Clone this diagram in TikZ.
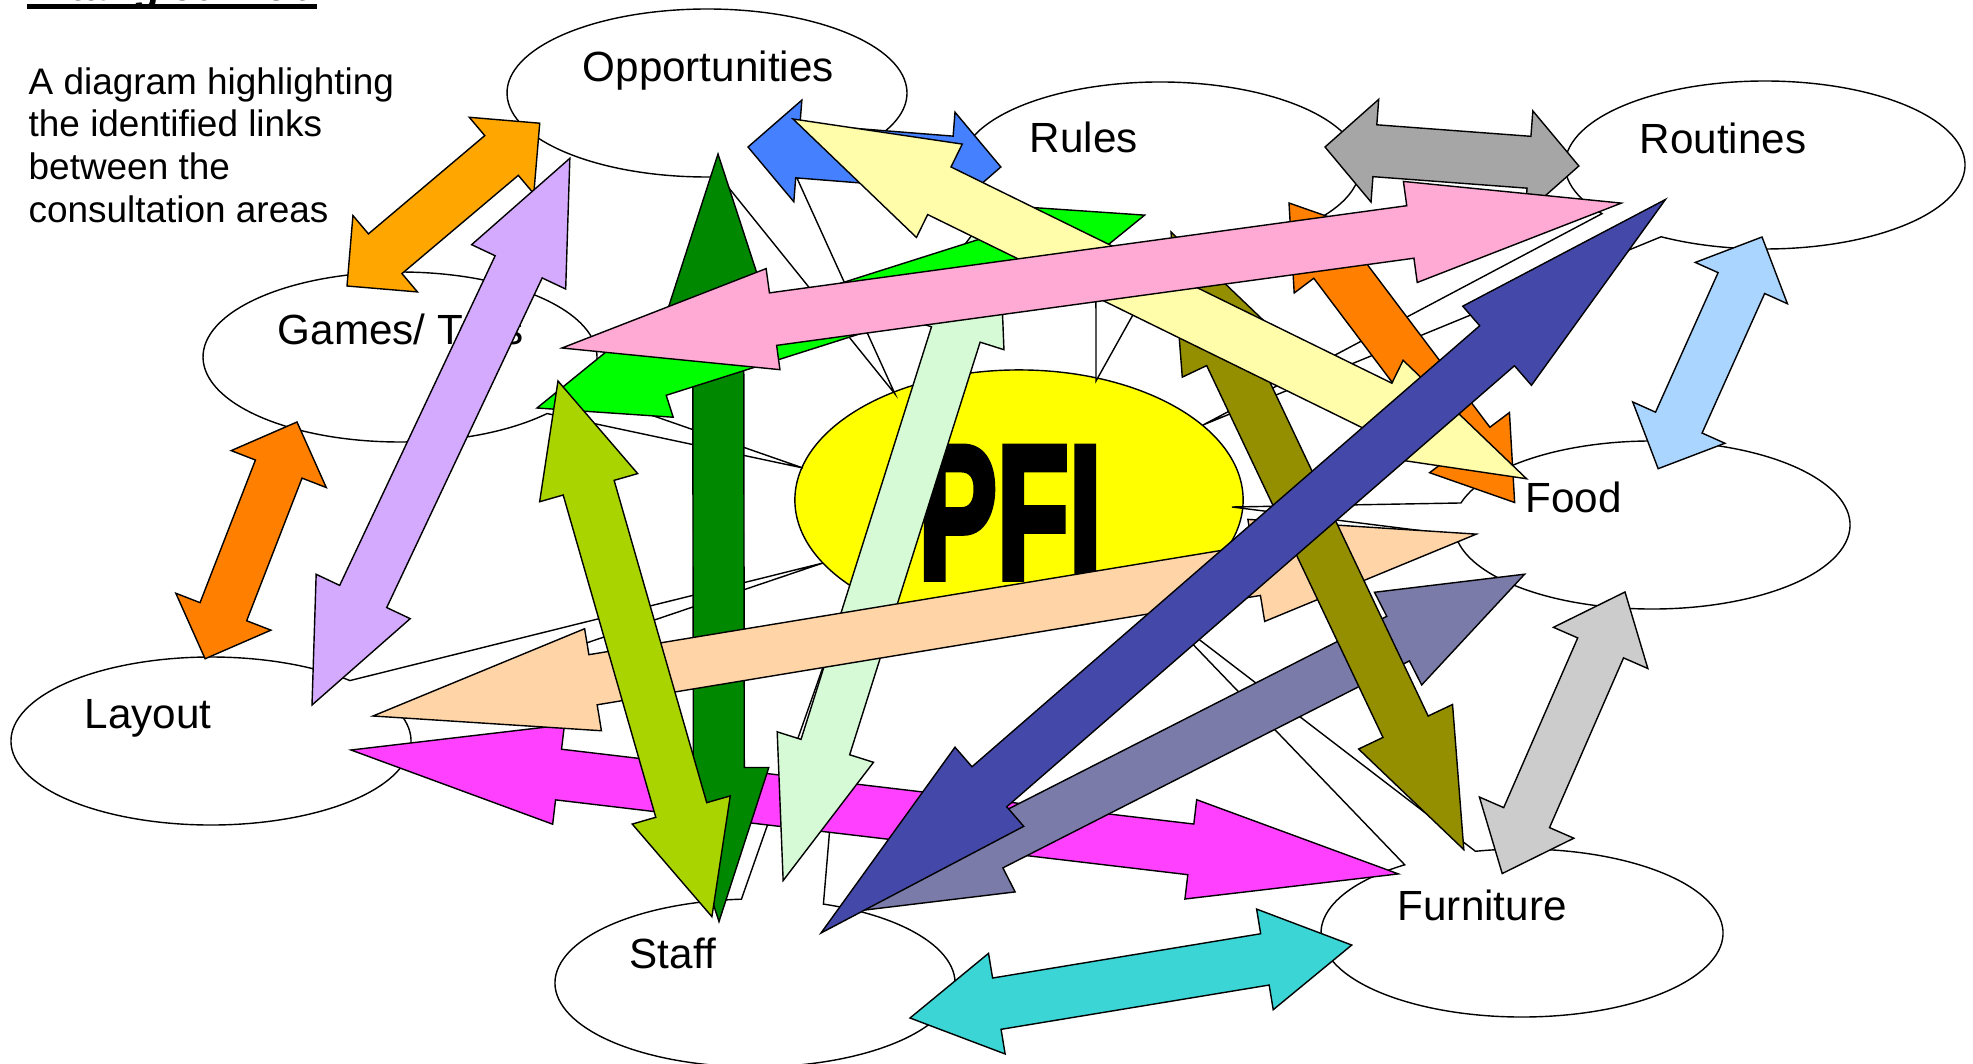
\documentclass[tikz,border=0pt]{standalone}
\usepackage{fontspec}
\setmainfont{Liberation Sans}
\newfontfamily\pfifont{Liberation Sans Bold}[FakeBold=4]
\usetikzlibrary{shapes.geometric}
\definecolor{cPFI}{RGB}{255,255,0}
\definecolor{cOrA}{HTML}{FFA600}
\definecolor{cLav}{HTML}{D4AAFF}
\definecolor{cBlue}{HTML}{4580FF}
\definecolor{cGray}{HTML}{A6A6A6}
\definecolor{cCyan}{HTML}{3CD5D5}
\definecolor{cLBlue}{HTML}{AAD5FF}
\definecolor{cOr}{HTML}{FF8000}
\definecolor{cLGray}{HTML}{CCCCCC}
\definecolor{cMag}{HTML}{FF40FF}
\definecolor{cDGreen}{HTML}{008800}
\definecolor{cPGreen}{HTML}{D5FAD5}
\definecolor{cPeach}{HTML}{FFD5A8}
\definecolor{cSlate}{HTML}{7A7BA8}
\definecolor{cOlive}{HTML}{948F00}
\definecolor{cGreen}{HTML}{00FF00}
\definecolor{cYG}{HTML}{AAD400}
\definecolor{cLYel}{HTML}{FFFCAA}
\definecolor{cPink}{HTML}{FFAAD5}
\definecolor{cNavy}{HTML}{4448A8}
% double-headed block arrow between two named coordinates
% #1 fill, #2 from, #3 to, #4 shaft half width, #5 head half width, #6 head length (px units)
\newcommand{\blockarrow}[6]{%
  \pgfpointdiff{\pgfpointanchor{#2}{center}}{\pgfpointanchor{#3}{center}}%
  \pgfgetlastxy{\bax}{\bay}%
  \pgfmathsetmacro{\baang}{atan2(\bay,\bax)}%
  \pgfmathsetmacro{\balen}{veclen(\bax,\bay)/0.2845276}%
  \begin{scope}[shift={(#2)}, rotate=\baang, x=0.01cm, y=0.01cm]
    \filldraw[fill=#1, arr] (0,0) -- (#6,#5) -- (#6,#4) -- ({\balen-#6},#4) -- ({\balen-#6},#5)
      -- (\balen,0) -- ({\balen-#6},-#5) -- ({\balen-#6},-#4) -- (#6,-#4) -- (#6,-#5) -- cycle;
  \end{scope}}
% oval callout: #1 cx, #2 cy, #3 rx, #4 ry, #5 gap start angle, #6 gap end angle, #7 tip
\newcommand{\callout}[7]{%
  \filldraw[callout] (#1,#2) ++(#6:#3 and #4) arc[start angle=#6, end angle={#5+360}, x radius=#3, y radius=#4] -- (#7) -- cycle;}
\begin{document}
\begin{tikzpicture}[x=0.01cm, y=-0.01cm, line width=0.4pt,
  callout/.style={fill=white, draw=black},
  arr/.style={draw=black, line join=miter},
  lbl/.style={font=\fontsize{12}{14}\selectfont, inner sep=0pt, anchor=base west},
  desc/.style={font=\fontsize{10.5}{12.1}\selectfont, inner sep=0pt, anchor=base west}]
\useasboundingbox (0,0) rectangle (1973,1064);
\clip (0,0) rectangle (1973,1064);

% title and description
\node[font=\bfseries\fontsize{12}{14}\selectfont, inner sep=0pt, anchor=base west] (title) at (27,1) {A tangled web};
\fill (27,4) rectangle (317,9.5);
\node[desc] (d1) at (28,95) {A diagram highlighting};
\node[desc] (d2) at (28,136.7) {the identified links};
\node[desc] (d3) at (28,180) {between the};
\node[desc] (d4) at (28,222.7) {consultation areas};

% PFI
\node[draw=black, fill=cPFI, ellipse, minimum width=4.48cm, minimum height=2.6cm, inner sep=0pt] (pfi) at (1019,500) {};

% callout tips
\coordinate (opptip) at (895,394);
\coordinate (rultip) at (1096,381);
\coordinate (routip) at (1203,425);
\coordinate (foodtip) at (1232,507);
\coordinate (furtip) at (1158,608);
\coordinate (stafftip) at (850,590);
\coordinate (laytip) at (823,563);
\coordinate (gamtip) at (803,468);

\callout{707}{93}{200}{84}{64.6}{86.3}{opptip}
\callout{1160}{167}{200}{85}{87.7}{108.7}{rultip}
\callout{1765}{165}{200}{84}{121.3}{144.6}{routip}
\callout{1652}{525}{198}{84}{173.2}{195.2}{foodtip}
\callout{1522}{933}{201}{84}{234.3}{256.6}{furtip}
\callout{755}{983}{200}{84}{266.1}{290}{stafftip}
\callout{211}{741}{200}{84}{314}{336.7}{laytip}
\callout{400}{357}{197}{85}{23.3}{41.7}{gamtip}

\node[lbl] (lopp) at (582,82) {Opportunities};
\node[lbl] (lrul) at (1029,153) {Rules};
\node[lbl] (lrou) at (1639,154) {Routines};
\node[lbl] (lfood) at (1525,512) {Food};
\node[lbl] (lfur) at (1397,920) {Furniture};
\node[lbl] (lstaff) at (629,968) {Staff};
\node[lbl] (llay) at (84,728) {Layout};
\node[lbl] (lgam) at (277,345) {Games/ Toys};

\node[font=\pfifont\fontsize{54}{60}\selectfont, inner sep=0pt, anchor=base] (pfitext) at (1010,578) {\scalebox{0.62}[1]{PFI}};

% arrow end points
\coordinate (oaA) at (347,286);   \coordinate (oaB) at (540,123);
\coordinate (lvA) at (312,705);   \coordinate (lvB) at (570,158);
\coordinate (blA) at (748,147);   \coordinate (blB) at (1001,167);
\coordinate (grA) at (1325,147);  \coordinate (grB) at (1579,166);
\coordinate (cyA) at (910,1018);  \coordinate (cyB) at (1352,945);
\coordinate (lbA) at (1762,237);  \coordinate (lbB) at (1658,469);
\coordinate (o3A) at (297,422);   \coordinate (o3B) at (205,659);
\coordinate (lgA) at (1625,592);  \coordinate (lgB) at (1502,874);
\coordinate (mgA) at (351,750);   \coordinate (mgB) at (1399,874);
\coordinate (dgA) at (718,154);   \coordinate (dgB) at (719,922);
\coordinate (pgA) at (998,201);   \coordinate (pgB) at (783,881);
\coordinate (peA) at (373,716);   \coordinate (peB) at (1477,534);
\coordinate (slA) at (865,910);   \coordinate (slB) at (1525,574);
\coordinate (olA) at (1171,232);  \coordinate (olB) at (1464,850);
\coordinate (gnA) at (537,408);   \coordinate (gnB) at (1145,215);
\coordinate (ygA) at (558,381);   \coordinate (ygB) at (712,917);
\coordinate (o2A) at (1289,203);  \coordinate (o2B) at (1515,503);
\coordinate (lyA) at (793,119);   \coordinate (lyB) at (1527,479);
\coordinate (pkA) at (562,348);   \coordinate (pkB) at (1622,203);
\coordinate (nvA) at (821,933);   \coordinate (nvB) at (1666,199);

\blockarrow{cOrA}{oaA}{oaB}{26}{50}{50}
\blockarrow{cLav}{lvA}{lvB}{26}{52}{120}
\blockarrow{cBlue}{blA}{blB}{27}{51}{50}
\blockarrow{cGray}{grA}{grB}{26}{51.5}{50}
\blockarrow{cCyan}{cyA}{cyB}{26}{51}{88}
\blockarrow{cLBlue}{lbA}{lbB}{25.5}{50.5}{50.5}
\blockarrow{cOr}{o3A}{o3B}{25}{51}{50.5}
\blockarrow{cLGray}{lgA}{lgB}{25}{51.5}{61}
\blockarrow{cMag}{mgA}{mgB}{25.5}{50}{209}
\blockarrow{cDGreen}{dgA}{dgB}{25.5}{50}{154}
\blockarrow{cPGreen}{pgA}{pgB}{25.5}{50.5}{140}
\blockarrow{cPeach}{peA}{peB}{25.4}{51.7}{223}
\blockarrow{cSlate}{slA}{slB}{25}{52}{142}
\blockarrow{cOlive}{olA}{olB}{25}{52}{136}
\blockarrow{cGreen}{gnA}{gnB}{27}{50}{127}
\blockarrow{cYG}{ygA}{ygB}{26.5}{51}{111}
\blockarrow{cOr}{o2A}{o2B}{25.5}{50}{75}
\blockarrow{cLYel}{lyA}{lyB}{26.5}{52}{163}
\blockarrow{cPink}{pkA}{pkB}{26.5}{51}{213}
\blockarrow{cNavy}{nvA}{nvB}{26.5}{52.4}{223}
\end{tikzpicture}
\end{document}
